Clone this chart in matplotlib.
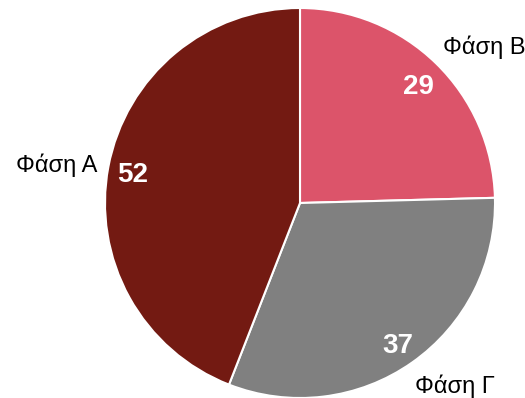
import matplotlib
matplotlib.use("Agg")
import matplotlib.pyplot as plt

plt.rcParams['font.family'] = ['Liberation Sans', 'DejaVu Sans']

labels = ["Φάση Β", "Φάση Γ", "Φάση Α"]
values = [29, 37, 52]
colors = ["#DC546A", "#808080", "#731A12"]

fig = plt.figure(figsize=(5.25, 3.98), dpi=100)
W, H = 525, 398
cx, cy, r = 300, 203, 195
ax = fig.add_axes([(cx - r) / W, (H - cy - r) / H, 2 * r / W, 2 * r / H])

wedges, texts, autotexts = ax.pie(
    values,
    labels=labels,
    colors=colors,
    startangle=90,
    counterclock=False,
    radius=1.0,
    labeldistance=1.1,
    pctdistance=0.87,
    autopct=lambda p: f"{round(p * sum(values) / 100):d}",
    wedgeprops=dict(edgecolor="white", linewidth=1.5),
    textprops=dict(fontsize=17, color="black"),
    frame=False,
)
ax.set_xlim(-1, 1)
ax.set_ylim(-1, 1)
ax.set_aspect('equal')
ax.axis('off')

# pull the category names slightly toward the pie (offsets in pixels)
nudges = [(-7, 2), (-8, -8), (8, -2)]
for t, (dx, dy) in zip(texts, nudges):
    x, y = t.get_position()
    t.set_position((x + dx / r, y + dy / r))

value_nudges = [(0, -6), (0, -4), (-1, -3)]
for t, (dx, dy) in zip(autotexts, value_nudges):
    t.set_color("white")
    t.set_fontsize(20)
    t.set_fontweight("bold")
    x, y = t.get_position()
    t.set_position((x + dx / r, y + dy / r))

fig.savefig("out.png", dpi=100)
